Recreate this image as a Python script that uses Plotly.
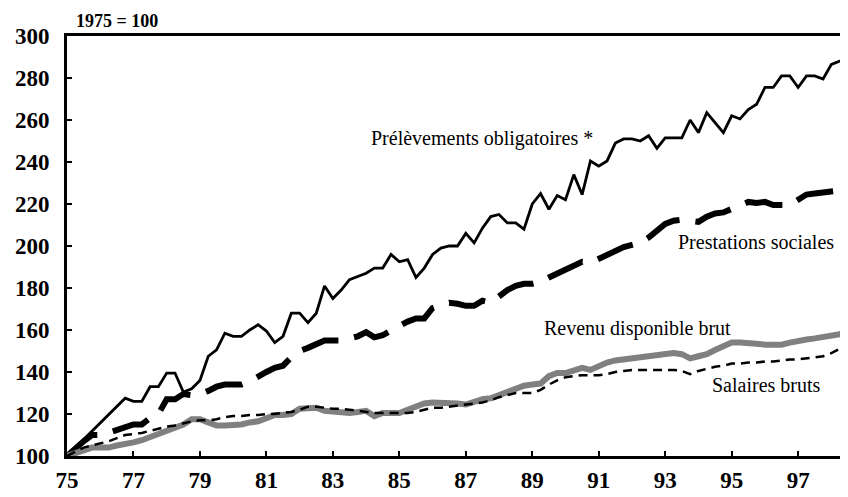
import plotly.graph_objects as go

# Séries trimestrielles, indice 1975 = 100 (1975 T1 -> 1998 T3)
prelevements = [
    100, 104, 108, 112,
    116, 120, 124, 127.5,
    126, 126, 133, 133,
    139.5, 139.5, 130.5, 132,
    136, 147.5, 150.5, 158.5,
    157, 157, 160, 162.5,
    159.5, 154, 157, 168,
    168, 163.5, 168, 181,
    175, 179, 184, 185.5,
    187, 189.5, 189.5, 196,
    192.5, 193.5, 185, 189.5,
    196, 199, 200, 200,
    206, 201.5, 208.5, 214,
    215, 211, 211, 208,
    220, 225, 217.5, 224,
    222, 234, 224.5, 240.5,
    238, 240.5, 249, 251,
    251, 250, 252.5, 246.5,
    251.5, 251.5, 251.5, 260,
    254, 263.5, 258.5, 254,
    262, 260.5, 265, 267.5,
    275.5, 275.5, 281, 281,
    275.5, 281, 281, 279.5,
    286.5, 288, 289.5,
]

prestations = [
    100, 104, 107, 110,
    110, 111, 112.5, 114,
    115, 115, 118, 120,
    127, 127, 129.5, 129,
    129.5, 131, 133, 134,
    134, 134, 135.5, 138,
    140, 142, 143, 147,
    150, 151.5, 153, 155,
    155, 155, 156, 157,
    159, 156.5, 157.5, 160,
    162, 164, 165.5, 165.5,
    170.5, 172, 173, 172.5,
    171.5, 171.5, 174, 173,
    176, 179, 181, 182,
    182, 183, 185, 187,
    188.5, 191, 192.5, 192,
    194, 196, 198, 199.5,
    200.5, 201.5, 204, 207.5,
    210.5, 212, 212.5, 212,
    211.5, 214, 215.5, 216,
    217.5, 219, 221, 220.5,
    221, 219.5, 219.5, 219.5,
    222, 224.5, 225, 225.5,
    225.5, 226, 227,
]

revenu = [
    100, 101.5, 103, 104,
    104, 104, 105, 105.5,
    106.5, 107.5, 109, 111,
    112.5, 113.5, 115, 117.5,
    117.5, 116, 114.5, 114.5,
    114.5, 115, 116, 116.5,
    118, 119.5, 119.5, 120,
    122.5, 123, 123, 121.5,
    121, 121, 120.5, 121,
    121.5, 119, 120.5, 120.5,
    120.5, 122, 123.5, 125,
    125.5, 125.5, 125.5, 125,
    124.5, 126, 127, 127.5,
    129, 130.5, 132, 133.5,
    134, 134.5, 138, 139.5,
    139.5, 141, 142, 141,
    143, 144.5, 145.5, 146,
    146.5, 147, 147.5, 148.5,
    149, 149, 148.5, 146.5,
    147.5, 148.5, 150.5, 152.5,
    154, 154, 154, 153.5,
    153, 153, 153, 154,
    155, 155.5, 156, 156.5,
    157, 158, 160,
]

salaires = [
    100, 102, 104, 105,
    106, 107, 108.5, 110,
    110.5, 111, 112, 113,
    114, 114.5, 115.5, 116.5,
    117, 117, 117.5, 118.5,
    119, 119, 119.5, 119.5,
    120, 120, 120.5, 121,
    122, 123.5, 123.5, 123,
    122.5, 122.5, 122, 121.5,
    121, 120.5, 120.5, 120.5,
    120.5, 120.5, 121, 122,
    123, 123, 123.5, 124,
    124.5, 125, 125.5, 126.5,
    128, 129, 130, 130,
    130, 131.5, 134, 136,
    137.5, 138, 138.5, 138.5,
    138.5, 139, 140, 140.5,
    141, 141, 141, 141,
    141, 141, 140.5, 139,
    140.5, 141.5, 142.5, 143,
    144, 144, 144.5, 144.5,
    145, 145, 145.5, 146,
    146, 146.5, 147, 147.5,
    149, 151, 153,
]

# Trimestres exprimés en années (75 = 1975)
trimestres = [75 + i / 4 for i in range(len(prelevements))]
annees_ticks = list(range(75, 98, 2))

SERIF = "Liberation Serif"

fig = go.Figure()

fig.add_trace(go.Scatter(x=trimestres, y=prelevements, mode='lines', name='Prélèvements obligatoires *',
                         line=dict(color='black', width=2.8)))
fig.add_trace(go.Scatter(x=trimestres, y=prestations, mode='lines', name='Prestations sociales',
                         line=dict(color='black', width=6, dash='38px,16px')))
fig.add_trace(go.Scatter(x=trimestres, y=revenu, mode='lines', name='Revenu disponible brut',
                         line=dict(color='#808080', width=6)))
fig.add_trace(go.Scatter(x=trimestres, y=salaires, mode='lines', name='Salaires bruts',
                         line=dict(color='black', width=2.5, dash='9px,6px')))

# Libellés des courbes
fig.add_annotation(x=87.49, y=251.4, text="Prélèvements obligatoires *", showarrow=False,
                   font=dict(family=SERIF, size=20, color='black'))
fig.add_annotation(x=95.74, y=201.9, text="Prestations sociales", showarrow=False,
                   font=dict(family=SERIF, size=20, color='black'))
fig.add_annotation(x=92.18, y=160.9, text="Revenu disponible brut", showarrow=False,
                   font=dict(family=SERIF, size=20, color='black'))
fig.add_annotation(x=96.05, y=133.8, text="Salaires bruts", showarrow=False,
                   font=dict(family=SERIF, size=20, color='black'))
fig.add_annotation(x=0.009, y=1.036, xref='paper', yref='paper', xanchor='left', yanchor='middle',
                   text="1975 = 100", showarrow=False,
                   font=dict(family=SERIF, size=18, color='black', weight='bold'))

# la page ajoute 8 px de marge autour de la figure : on en tient compte
fig.update_layout(
    width=840, height=489,
    margin=dict(l=59, r=0, t=28, b=41),
    plot_bgcolor='white', paper_bgcolor='white',
    showlegend=False,
)
fig.update_xaxes(range=[75, 98.5], tickvals=annees_ticks, ticktext=[str(a) for a in annees_ticks],
                 ticks='inside', ticklen=5, tickwidth=2, tickcolor='black',
                 showline=True, linewidth=3, linecolor='black', mirror=True,
                 showgrid=False, zeroline=False, ticklabelstandoff=1, automargin=False,
                 tickfont=dict(family=SERIF, size=23, color='black', weight='bold'))
fig.update_yaxes(range=[100, 300], dtick=20,
                 ticks='inside', ticklen=5, tickwidth=2, tickcolor='black',
                 showline=True, linewidth=3, linecolor='black',
                 showgrid=False, zeroline=False, ticklabelstandoff=10, automargin=False,
                 tickfont=dict(family=SERIF, size=23, color='black', weight='bold'))

fig.write_html("out.html")
